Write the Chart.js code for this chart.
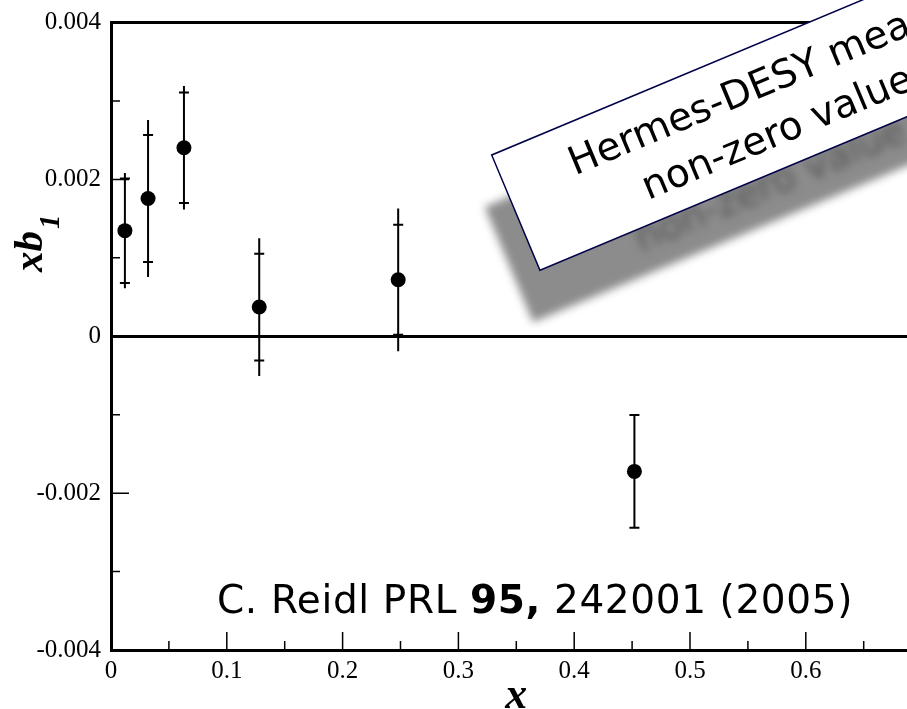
<!DOCTYPE html>
<html>
<head>
<meta charset="utf-8">
<script src="https://cdn.jsdelivr.net/npm/chart.js@4"></script>
<style>
  html, body { margin: 0; padding: 0; background: #fff; overflow: hidden; }
  #wrap { width: 907px; height: 709px; overflow: hidden; position: relative; }
  canvas { position: absolute; left: 0; top: 0; }
</style>
</head>
<body>
<div id="wrap"><canvas id="c" width="930" height="709"></canvas></div>
<script>
// xb1 points with statistical (capped) and total (plain) error bars
const xVals   = [0.012, 0.032, 0.063, 0.128, 0.248, 0.452];
const xb1     = [0.001346, 0.001756, 0.002404, 0.000372, 0.000720, -0.001723];
const statErr = [0.000666, 0.000810, 0.000705, 0.000680, 0.000700, 0.000720];
const totErr  = [0.000734, 0.001000, 0.000788, 0.000878, 0.000910, 0.000720];

const xTickLabels = ['0', '0.1', '0.2', '0.3', '0.4', '0.5', '0.6', ''];
const yTickLabels = ['-0.004', '-0.002', '0', '0.002', '0.004'];

const citation = ['C. Reidl PRL ', '95,', ' 242001 (2005)'];
const boxLines = ['Hermes-DESY measures', 'non-zero value'];

const serif = "'Liberation Serif', 'Times New Roman', serif";
const comic = "'Comic Sans MS', 'DejaVu Sans', sans-serif";

const errorBars = {
  id: 'errorBars',
  beforeDatasetsDraw(chart) {
    const { ctx, scales: { x, y } } = chart;
    ctx.save();
    ctx.strokeStyle = '#000';
    // inward tick marks
    ctx.lineWidth = 1.5;
    ctx.beginPath();
    for (let i = 1; i <= 14; i++) {
      const px = x.getPixelForValue(i * 0.05);
      const len = i % 2 === 0 ? 18 : 9;
      ctx.moveTo(px, y.bottom);
      ctx.lineTo(px, y.bottom - len);
    }
    for (let i = -3; i <= 3; i++) {
      if (i === 0) continue;
      const py = y.getPixelForValue(i * 0.001);
      const len = i % 2 === 0 ? 18 : 9;
      ctx.moveTo(x.left, py);
      ctx.lineTo(x.left + len, py);
    }
    ctx.stroke();

    ctx.lineWidth = 2;
    xVals.forEach((xv, i) => {
      const px = x.getPixelForValue(xv);
      const tHi = y.getPixelForValue(xb1[i] + totErr[i]);
      const tLo = y.getPixelForValue(xb1[i] - totErr[i]);
      const sHi = y.getPixelForValue(xb1[i] + statErr[i]);
      const sLo = y.getPixelForValue(xb1[i] - statErr[i]);
      ctx.beginPath();
      ctx.moveTo(px, tHi);
      ctx.lineTo(px, tLo);
      [sHi, sLo].forEach(py => {
        ctx.moveTo(px - 5, py);
        ctx.lineTo(px + 5, py);
      });
      ctx.stroke();
    });
    ctx.restore();
  },
  afterDraw(chart) {
    const { ctx, scales: { x } } = chart;
    ctx.save();
    ctx.fillStyle = '#000';

    // axis titles
    ctx.font = `italic bold 44px ${serif}`;
    ctx.textAlign = 'center';
    ctx.textBaseline = 'alphabetic';
    ctx.fillText('x', (x.left + 921.6) / 2, 708);

    ctx.save();
    ctx.translate(42, 272);
    ctx.rotate(-Math.PI / 2);
    ctx.textAlign = 'left';
    ctx.font = `italic bold 41px ${serif}`;
    ctx.fillText('xb', 0, 0);
    const w = ctx.measureText('xb').width;
    ctx.font = `italic bold 29px ${serif}`;
    ctx.fillText('1', w + 2, 17);
    ctx.restore();

    // citation
    ctx.textAlign = 'left';
    const fonts = [`39px ${comic}`, `bold 39px ${comic}`, `39px ${comic}`];
    let total = 0, nChars = 0;
    citation.forEach((t, i) => { ctx.font = fonts[i]; total += ctx.measureText(t).width; nChars += t.length; });
    const sp = Math.max(0, (636 - total) / nChars);
    ctx.letterSpacing = sp + 'px';
    let cx = 217;
    citation.forEach((t, i) => {
      ctx.font = fonts[i];
      ctx.fillText(t, cx, 613);
      cx += ctx.measureText(t).width;
    });
    ctx.letterSpacing = '0px';

    // rotated note box with drop shadow
    const bx = 491.7, by = 155, ang = -22.7 * Math.PI / 180, bw = 560, bh = 125;
    ctx.save();
    ctx.filter = 'blur(4px)';
    ctx.translate(bx - 7, by + 52);
    ctx.rotate(ang);
    ctx.fillStyle = 'rgb(140,140,140)';
    ctx.fillRect(0, 0, bw, bh);
    ctx.fillStyle = 'rgb(85,85,85)';
    ctx.font = `39px ${comic}`;
    ctx.fillText(boxLines[1], 127, 102);
    ctx.restore();

    ctx.save();
    ctx.translate(bx, by);
    ctx.rotate(ang);
    ctx.fillStyle = '#fff';
    ctx.fillRect(0, 0, bw, bh);
    ctx.strokeStyle = '#000048';
    ctx.lineWidth = 1.5;
    ctx.strokeRect(0, 0, bw, bh);
    ctx.fillStyle = '#000';
    ctx.font = `39px ${comic}`;
    ctx.fillText(boxLines[0], 69, 51);
    ctx.fillText(boxLines[1], 127, 102);
    ctx.restore();

    ctx.restore();
  }
};

new Chart(document.getElementById('c'), {
  type: 'scatter',
  data: {
    datasets: [{
      data: xVals.map((v, i) => ({ x: v, y: xb1[i] })),
      backgroundColor: '#000',
      borderWidth: 0,
      pointRadius: 7.5,
      pointHoverRadius: 7.5
    }]
  },
  options: {
    responsive: false,
    animation: false,
    layout: { padding: { top: 13, right: 8.4, left: 0, bottom: 0 } },
    plugins: { legend: { display: false }, tooltip: { enabled: false } },
    scales: {
      x: {
        type: 'linear',
        min: 0, max: 0.7,
        afterFit: s => { s.height = 59; },
        border: { color: '#000', width: 3 },
        grid: { color: 'transparent', drawTicks: false },
        ticks: {
          stepSize: 0.1,
          padding: 6,
          color: '#000',
          font: { family: serif, size: 25 },
          maxRotation: 0,
          callback: (v, i) => xTickLabels[i]
        }
      },
      y: {
        min: -0.004, max: 0.004,
        afterFit: s => { s.width = 111; },
        border: { color: '#000', width: 3 },
        grid: {
          drawTicks: false,
          lineWidth: 3,
          color: c => (Math.abs(c.tick.value) < 1e-9 || Math.abs(c.tick.value - 0.004) < 1e-9) ? '#000' : 'transparent'
        },
        ticks: {
          stepSize: 0.002,
          padding: 10,
          color: '#000',
          font: { family: serif, size: 25, lineHeight: 1 },
          callback: (v, i) => yTickLabels[i]
        }
      }
    }
  },
  plugins: [errorBars]
});
</script>
</body>
</html>
